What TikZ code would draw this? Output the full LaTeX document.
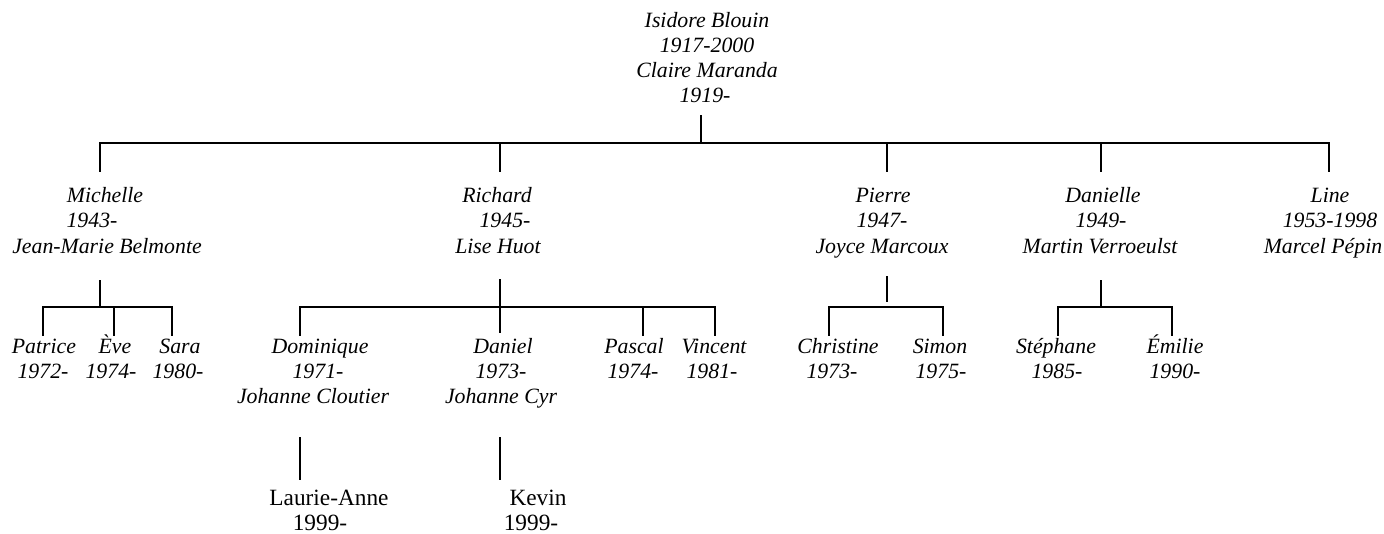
\documentclass[tikz,border=0pt]{standalone}
\usepackage{fontspec}
\setmainfont{Liberation Serif}
\newcommand\famitfont{\fontsize{21.8}{25}\selectfont\itshape}
\newcommand\famrmfont{\fontsize{23.3}{27}\selectfont\upshape}
\begin{document}
\begin{tikzpicture}[x=1pt,y=-1pt,
  it/.style={font=\famitfont, anchor=base, inner sep=0pt},
  rm/.style={font=\famrmfont, anchor=base, inner sep=0pt},
  link/.style={draw=black, line width=1.2pt}]
\useasboundingbox (0,0) rectangle (1384,533);
% ---------- generation 1
\node[it] (root1) at (707,27) {Isidore Blouin};
\node[it] (root2) at (707,52) {1917-2000};
\node[it] (root3) at (707,77) {Claire Maranda};
\node[it] (root4) at (705,102) {1919-};
% ---------- generation 2
\node[it] (mi1) at (105,202) {Michelle};
\node[it] (mi2) at (92,227) {1943-};
\node[it] (mi3) at (107,253) {Jean-Marie Belmonte};
\node[it] (ri1) at (497,202) {Richard};
\node[it] (ri2) at (505,227) {1945-};
\node[it] (ri3) at (498,253) {Lise Huot};
\node[it] (pi1) at (883,202) {Pierre};
\node[it] (pi2) at (882,227) {1947-};
\node[it] (pi3) at (882,253) {Joyce Marcoux};
\node[it] (da1) at (1103,202) {Danielle};
\node[it] (da2) at (1101,227) {1949-};
\node[it] (da3) at (1100,253) {Martin Verroeulst};
\node[it] (li1) at (1330,202) {Line};
\node[it] (li2) at (1330,227) {1953-1998};
\node[it] (li3) at (1323,253) {Marcel Pépin};
% ---------- generation 3
\node[it] (pa1) at (44,353) {Patrice};
\node[it] (pa2) at (43,378) {1972-};
\node[it] (ev1) at (115,353) {Ève};
\node[it] (ev2) at (111,378) {1974-};
\node[it] (sa1) at (180,353) {Sara};
\node[it] (sa2) at (178,378) {1980-};
\node[it] (do1) at (320,353) {Dominique};
\node[it] (do2) at (318,378) {1971-};
\node[it] (do3) at (313,403) {Johanne Cloutier};
\node[it] (dn1) at (503,353) {Daniel};
\node[it] (dn2) at (501,378) {1973-};
\node[it] (dn3) at (501,403) {Johanne Cyr};
\node[it] (ps1) at (634,353) {Pascal};
\node[it] (ps2) at (633,378) {1974-};
\node[it] (vi1) at (714,353) {Vincent};
\node[it] (vi2) at (712,378) {1981-};
\node[it] (ch1) at (838,353) {Christine};
\node[it] (ch2) at (832,378) {1973-};
\node[it] (si1) at (940,353) {Simon};
\node[it] (si2) at (941,378) {1975-};
\node[it] (st1) at (1056,353) {Stéphane};
\node[it] (st2) at (1057,378) {1985-};
\node[it] (em1) at (1175,353) {Émilie};
\node[it] (em2) at (1175,378) {1990-};
% ---------- generation 4
\node[rm] (la1) at (329,505) {Laurie-Anne};
\node[rm] (la2) at (320,530) {1999-};
\node[rm] (ke1) at (538,505) {Kevin};
\node[rm] (ke2) at (531,530) {1999-};
% ---------- junction points
\coordinate (root-s) at (701,115);
\coordinate (root-bar) at (701,143);
\coordinate (mi-n) at (100,172);
\coordinate (ri-n) at (500,172);
\coordinate (pi-n) at (887,172);
\coordinate (da-n) at (1101,172);
\coordinate (li-n) at (1329,172);
\coordinate (mi-s) at (100,280);
\coordinate (mi-bar) at (100,307);
\coordinate (ri-s) at (500,279);
\coordinate (ri-bar) at (500,307);
\coordinate (pi-s) at (887,276);
\coordinate (pi-stop) at (887,302);
\coordinate (pi-bar) at (887,307);
\coordinate (da-s) at (1101,280);
\coordinate (da-bar) at (1101,307);
\coordinate (pa-n) at (43,336);
\coordinate (ev-n) at (114,336);
\coordinate (sa-n) at (172,336);
\coordinate (do-n) at (300,336);
\coordinate (dn-n) at (500,333);
\coordinate (ps-n) at (643,336);
\coordinate (vi-n) at (715,336);
\coordinate (ch-n) at (829,336);
\coordinate (si-n) at (943,336);
\coordinate (st-n) at (1058,336);
\coordinate (em-n) at (1172,336);
\coordinate (do-s) at (300,437);
\coordinate (la-n) at (300,480);
\coordinate (dn-s) at (500,437);
\coordinate (ke-n) at (500,480);
% ---------- connectors
\draw[link] (root-s) -- (root-bar);
\draw[link] (root-bar) -| (mi-n);
\draw[link] (root-bar) -| (ri-n);
\draw[link] (root-bar) -| (pi-n);
\draw[link] (root-bar) -| (da-n);
\draw[link] (root-bar) -| (li-n);
\draw[link] (mi-s) -- (mi-bar);
\draw[link] (mi-bar) -| (pa-n);
\draw[link] (mi-bar) -| (ev-n);
\draw[link] (mi-bar) -| (sa-n);
\draw[link] (ri-s) -- (dn-n);
\draw[link] (ri-bar) -| (do-n);
\draw[link] (ri-bar) -| (ps-n);
\draw[link] (ri-bar) -| (vi-n);
\draw[link] (pi-s) -- (pi-stop);
\draw[link] (pi-bar) -| (ch-n);
\draw[link] (pi-bar) -| (si-n);
\draw[link] (da-s) -- (da-bar);
\draw[link] (da-bar) -| (st-n);
\draw[link] (da-bar) -| (em-n);
\draw[link] (do-s) -- (la-n);
\draw[link] (dn-s) -- (ke-n);
\end{tikzpicture}
\end{document}
